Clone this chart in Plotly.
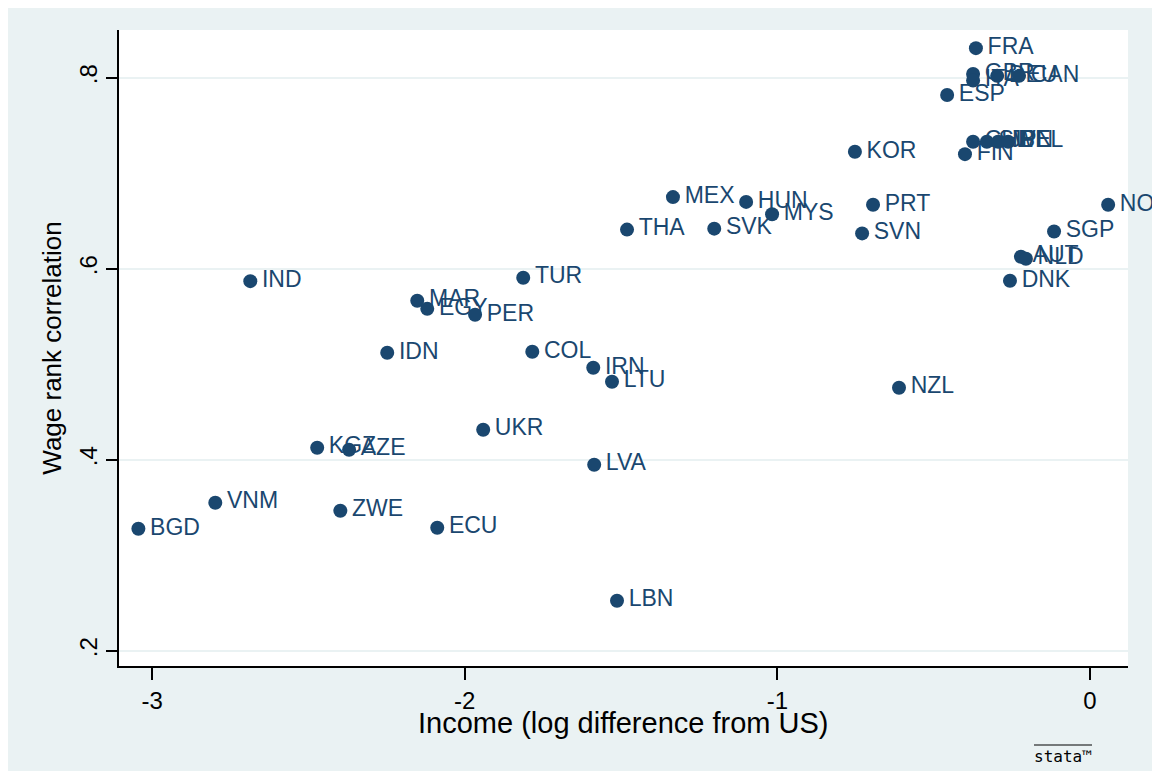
import plotly.graph_objects as go

countries = ["FRA", "GBR", "ITA", "DEU", "CAN", "ESP", "CHE", "SWE", "JPN", "BEL",
             "FIN", "KOR", "MEX", "HUN", "MYS", "PRT", "NOR", "THA", "SVK", "SVN",
             "SGP", "AUT", "NLD", "DNK", "IND", "TUR", "MAR", "EGY", "PER", "IDN",
             "COL", "IRN", "LTU", "NZL", "UKR", "KGZ", "AZE", "LVA", "VNM", "ZWE",
             "BGD", "ECU", "LBN"]
income = [-0.365, -0.374, -0.374, -0.297, -0.227, -0.457, -0.374, -0.330, -0.294, -0.262,
          -0.400, -0.752, -1.334, -1.100, -1.017, -0.694, 0.058, -1.481, -1.202, -0.729,
          -0.115, -0.221, -0.205, -0.256, -2.686, -1.813, -2.152, -2.120, -1.967, -2.248,
          -1.784, -1.589, -1.529, -0.611, -1.941, -2.472, -2.370, -1.586, -2.798, -2.398,
          -3.044, -2.088, -1.513]
wage_corr = [0.831, 0.804, 0.797, 0.802, 0.802, 0.782, 0.733, 0.733, 0.733, 0.733,
             0.720, 0.7225, 0.675, 0.670, 0.657, 0.667, 0.667, 0.641, 0.642, 0.637,
             0.639, 0.6126, 0.6105, 0.5874, 0.587, 0.5906, 0.5665, 0.558, 0.5518, 0.512,
             0.513, 0.4963, 0.4817, 0.4754, 0.4314, 0.4126, 0.4105, 0.3948, 0.355, 0.3466,
             0.3277, 0.3288, 0.2524]

x_ticks = [-3, -2, -1, 0]
x_tick_labels = ["-3", "-2", "-1", "0"]
y_ticks = [0.2, 0.4, 0.6, 0.8]
y_tick_labels = [".2", ".4", ".6", ".8"]

navy = "#1A476F"
bg = "#EAF2F3"
font_family = "Liberation Sans, Arial, sans-serif"

fig = go.Figure()
fig.add_trace(go.Scatter(
    x=income, y=wage_corr, mode="markers+text", text=countries,
    texttemplate="\u200a%{text}",
    textposition="middle right",
    textfont=dict(family=font_family, size=23, color=navy),
    marker=dict(color=navy, size=14, line=dict(width=0)),
    cliponaxis=False, showlegend=False,
))

pw, ph = 1009, 636
fig.update_layout(
    width=1152, height=763,
    margin=dict(l=111, r=32, t=22, b=105),
    paper_bgcolor=bg, plot_bgcolor="white",
    font=dict(family=font_family, color="black"),
    xaxis=dict(
        range=[-3.106, 0.1215], tickvals=x_ticks, ticktext=x_tick_labels,
        showgrid=False, zeroline=False, showline=True, linecolor="black", linewidth=1.5,
        ticks="outside", ticklen=12, tickwidth=1.5, tickcolor="black",
        tickfont=dict(size=24, family=font_family),
    ),
    yaxis=dict(
        range=[0.184, 0.850], tickvals=y_ticks, ticktext=y_tick_labels,
        showgrid=True, gridcolor=bg, gridwidth=2, zeroline=False,
        showline=True, linecolor="black", linewidth=1.5,
        ticks="outside", ticklen=11, tickwidth=1.5, tickcolor="black",
        tickangle=-90, tickfont=dict(size=24, family=font_family),
        title=dict(text="Wage rank correlation", font=dict(size=26, family=font_family), standoff=6),
    ),
    shapes=[
        dict(type="line", xref="paper", yref="paper", x0=(1034 - 119) / pw, x1=(1092 - 119) / pw,
             y0=-(745 - 666) / ph, y1=-(745 - 666) / ph, line=dict(color="black", width=1)),
    ],
    annotations=[
        dict(text="Income (log difference from US)", xref="paper", yref="paper",
             x=(623 - 119) / pw, y=-(723 - 666) / ph, showarrow=False,
             font=dict(size=29, family=font_family, color="black"),
             xanchor="center", yanchor="middle"),
        dict(text="stata™", xref="paper", yref="paper", x=(1063 - 119) / pw, y=-(756 - 666) / ph,
             showarrow=False, font=dict(size=16, family="DejaVu Sans Mono, monospace", color="black"),
             xanchor="center", yanchor="middle"),
    ],
)

fig.write_html("out.html")
